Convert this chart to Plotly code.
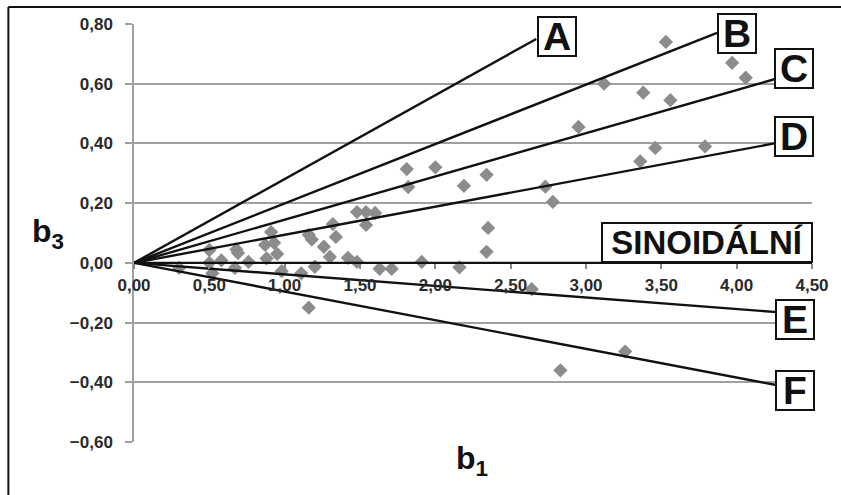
import plotly.graph_objects as go

# ---- data ----
b1_values = [0.30, 0.50, 0.50, 0.52, 0.58, 0.67, 0.68, 0.69, 0.76, 0.87, 0.88, 0.91, 0.93, 0.95, 0.98,
             1.11, 1.16, 1.18, 1.20, 1.16, 1.26, 1.30, 1.32, 1.34, 1.42, 1.48, 1.48, 1.54, 1.60, 1.54,
             1.63, 1.71, 1.81, 1.82, 1.91, 2.00, 2.16, 2.19, 2.34, 2.35, 2.34, 2.64, 2.73, 2.78, 2.83,
             2.95, 3.12, 3.26, 3.36, 3.38, 3.46, 3.53, 3.56, 3.79, 3.97, 4.06]
b3_values = [-0.017, 0.043, 0.000, -0.035, 0.008, -0.017, 0.045, 0.033, 0.003, 0.060, 0.015, 0.103, 0.067, 0.030, -0.028,
             -0.035, 0.094, 0.078, -0.013, -0.150, 0.054, 0.020, 0.130, 0.087, 0.017, 0.003, 0.170, 0.170, 0.167, 0.127,
             -0.020, -0.020, 0.314, 0.254, 0.003, 0.320, -0.015, 0.258, 0.295, 0.117, 0.037, -0.088, 0.255, 0.204, -0.360,
             0.455, 0.600, -0.297, 0.340, 0.570, 0.385, 0.740, 0.545, 0.390, 0.670, 0.620]

line_names = ["A", "B", "C", "D", "SINOIDÁLNÍ", "E", "F"]
line_end_x = [2.67, 3.87, 4.25, 4.25, 4.50, 4.27, 4.27]
line_end_y = [0.75, 0.77, 0.615, 0.40, 0.00, -0.165, -0.41]

# label box positions (data coords of box centres)
label_x = [2.806, 4.00, 4.381, 4.381, 3.805, 4.388, 4.388]
label_y = [0.759, 0.767, 0.652, 0.422, 0.069, -0.191, -0.426]

y_ticks = [-0.6, -0.4, -0.2, 0.0, 0.2, 0.4, 0.6, 0.8]
x_ticks = [0.0, 0.5, 1.0, 1.5, 2.0, 2.5, 3.0, 3.5, 4.0, 4.5]

FONT = "Liberation Sans, Arial, sans-serif"

fig = go.Figure()

fig.add_trace(go.Scatter(
    x=b1_values, y=b3_values, mode="markers",
    marker=dict(symbol="diamond", size=11, color="#8c8c8c"),
    showlegend=False, hoverinfo="x+y"))

for name, ex, ey in zip(line_names, line_end_x, line_end_y):
    fig.add_trace(go.Scatter(
        x=[0, ex], y=[0, ey], mode="lines",
        line=dict(color="#111111", width=2.4),
        name=name, showlegend=False))

for name, lx, ly in zip(line_names, label_x, label_y):
    big = name == "SINOIDÁLNÍ"
    fig.add_annotation(
        x=lx, y=ly, xref="x", yref="y", text=name, showarrow=False,
        font=dict(family=FONT, size=33 if big else 39, color="#111111", weight="bold"),
        bgcolor="white", bordercolor="#111111", borderwidth=2,
        width=208 if big else 36, height=37 if big else 37,
        borderpad=0, xanchor="center", yanchor="middle", align="center", valign="middle")

fig.add_annotation(x=0.4985, y=-0.045, xref="paper", yref="paper", text="b<sub>1</sub>",
                   showarrow=False, font=dict(family=FONT, size=32, color="#111111", weight="bold"),
                   xanchor="center", yanchor="middle")
fig.add_annotation(x=-0.127, y=0.50, xref="paper", yref="paper", text="b<sub>3</sub>",
                   showarrow=False, font=dict(family=FONT, size=32, color="#111111", weight="bold"),
                   xanchor="center", yanchor="middle")

# outer frame (top and left edges)
fig.add_shape(type="line", xref="paper", yref="paper", x0=-0.1853, x1=1.1, y0=1.0407, y1=1.0407,
              line=dict(color="#111111", width=2))
fig.add_shape(type="line", xref="paper", yref="paper", x0=-0.1853, x1=-0.1853, y0=1.0407, y1=-0.2,
              line=dict(color="#111111", width=2))

tickfont = dict(family=FONT, size=17, color="#2a2a2a", weight="bold")

fig.update_layout(
    width=841, height=495,
    margin=dict(l=134, r=27, t=24, b=53),
    paper_bgcolor="white", plot_bgcolor="white",
    separators=", ",
    xaxis=dict(range=[0, 4.5], tickvals=x_ticks, tickformat=".2f", showgrid=False, zeroline=False,
               anchor="free", position=0.6 / 1.4, showline=False,
               ticks="outside", ticklen=5, tickcolor="#888888", tickwidth=1.5,
               tickfont=tickfont, ticklabelstandoff=2),
    yaxis=dict(range=[-0.6, 0.8], tickvals=y_ticks, tickformat=".2f", showgrid=True,
               gridcolor="#a0a0a0", gridwidth=1.5, zeroline=False,
               showline=True, linecolor="#a0a0a0", linewidth=1.5,
               ticks="outside", ticklen=7, tickcolor="#a0a0a0", tickwidth=1.5,
               tickfont=tickfont, ticklabelstandoff=9),
)

fig.write_html("out.html", config={"displayModeBar": False},
               post_script="document.body.style.margin='0';document.body.style.padding='0';")
